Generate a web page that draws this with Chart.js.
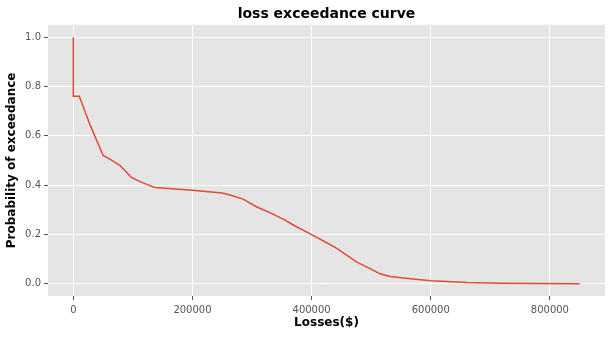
<!DOCTYPE html>
<html>
<head>
<meta charset="utf-8">
<script src="https://cdn.jsdelivr.net/npm/chart.js@4"></script>
<style>
  body { margin: 0; background: #fff; }
  #wrap { width: 612px; height: 337px; }
</style>
</head>
<body>
<div id="wrap"><canvas id="lossChart" width="612" height="337"></canvas></div>
<script>
// Loss values ($) and probability of exceedance
const lossValues = [0, 0, 10000, 28000, 50000, 62000, 78000, 89000, 98000, 117000, 137000, 160000,
  200000, 250000, 263000, 285000, 308000, 330000, 353000, 370000, 400000, 420000, 443000,
  460000, 476000, 499000, 515000, 532000, 566000, 600000, 661000, 718000, 780000, 850000];
const exceedProb = [1.0, 0.76, 0.76, 0.645, 0.52, 0.504, 0.48, 0.453, 0.43, 0.409, 0.39, 0.386,
  0.379, 0.368, 0.36, 0.343, 0.311, 0.288, 0.261, 0.237, 0.199, 0.173, 0.142,
  0.114, 0.087, 0.06, 0.04, 0.029, 0.02, 0.012, 0.005, 0.002, 0.001, 0.0];

const xTicks = [0, 200000, 400000, 600000, 800000];
const yTicks = [0.0, 0.2, 0.4, 0.6, 0.8, 1.0];

// grey panel behind the plot, ggplot style
const panelBg = {
  id: 'panelBg',
  beforeDraw(chart) {
    const { ctx, chartArea: a } = chart;
    ctx.save();
    ctx.fillStyle = '#e5e5e5';
    ctx.fillRect(a.left, a.top, a.right - a.left, a.bottom - a.top);
    ctx.restore();
  }
};

const points = lossValues.map((x, i) => ({ x: x, y: exceedProb[i] }));

new Chart(document.getElementById('lossChart'), {
  type: 'line',
  data: {
    datasets: [{
      data: points,
      borderColor: '#e24a33',
      borderWidth: 1.5,
      pointRadius: 0,
      tension: 0,
      fill: false
    }]
  },
  options: {
    responsive: false,
    animation: false,
    layout: { padding: { left: 0, right: 7, top: 0, bottom: 0 } },
    plugins: {
      legend: { display: false },
      tooltip: { enabled: false },
      title: {
        display: true,
        fullSize: false,
        text: 'loss exceedance curve',
        color: '#000',
        font: { family: 'DejaVu Sans', size: 14, weight: 'bold' },
        padding: { top: 6, bottom: 2 }
      }
    },
    scales: {
      x: {
        type: 'linear',
        min: -42500,
        max: 892500,
        afterBuildTicks: (scale) => { scale.ticks = xTicks.map(v => ({ value: v })); },
        afterFit: (scale) => { scale.height = 41; },
        border: { display: false },
        grid: { color: '#ffffff', lineWidth: 1, drawTicks: true, tickLength: 4, tickColor: '#555555' },
        ticks: {
          color: '#555555',
          padding: 4,
          maxRotation: 0,
          font: { family: 'DejaVu Sans', size: 10 },
          callback: (v) => String(v)
        },
        title: {
          display: true,
          text: 'Losses($)',
          color: '#000',
          font: { family: 'DejaVu Sans', size: 12, weight: 'bold' },
          padding: { top: 7, bottom: 7 }
        }
      },
      y: {
        min: -0.05,
        max: 1.05,
        afterBuildTicks: (scale) => { scale.ticks = yTicks.map(v => ({ value: v })); },
        afterFit: (scale) => { scale.width = 48; },
        border: { display: false },
        grid: { color: '#ffffff', lineWidth: 1, drawTicks: true, tickLength: 4, tickColor: '#555555' },
        ticks: {
          color: '#555555',
          padding: 3,
          font: { family: 'DejaVu Sans', size: 10 },
          callback: (v) => v.toFixed(1)
        },
        title: {
          display: true,
          text: 'Probability of exceedance',
          color: '#000',
          font: { family: 'DejaVu Sans', size: 12, weight: 'bold' },
          padding: { top: 5, bottom: 5 }
        }
      }
    }
  },
  plugins: [panelBg]
});
</script>
</body>
</html>
